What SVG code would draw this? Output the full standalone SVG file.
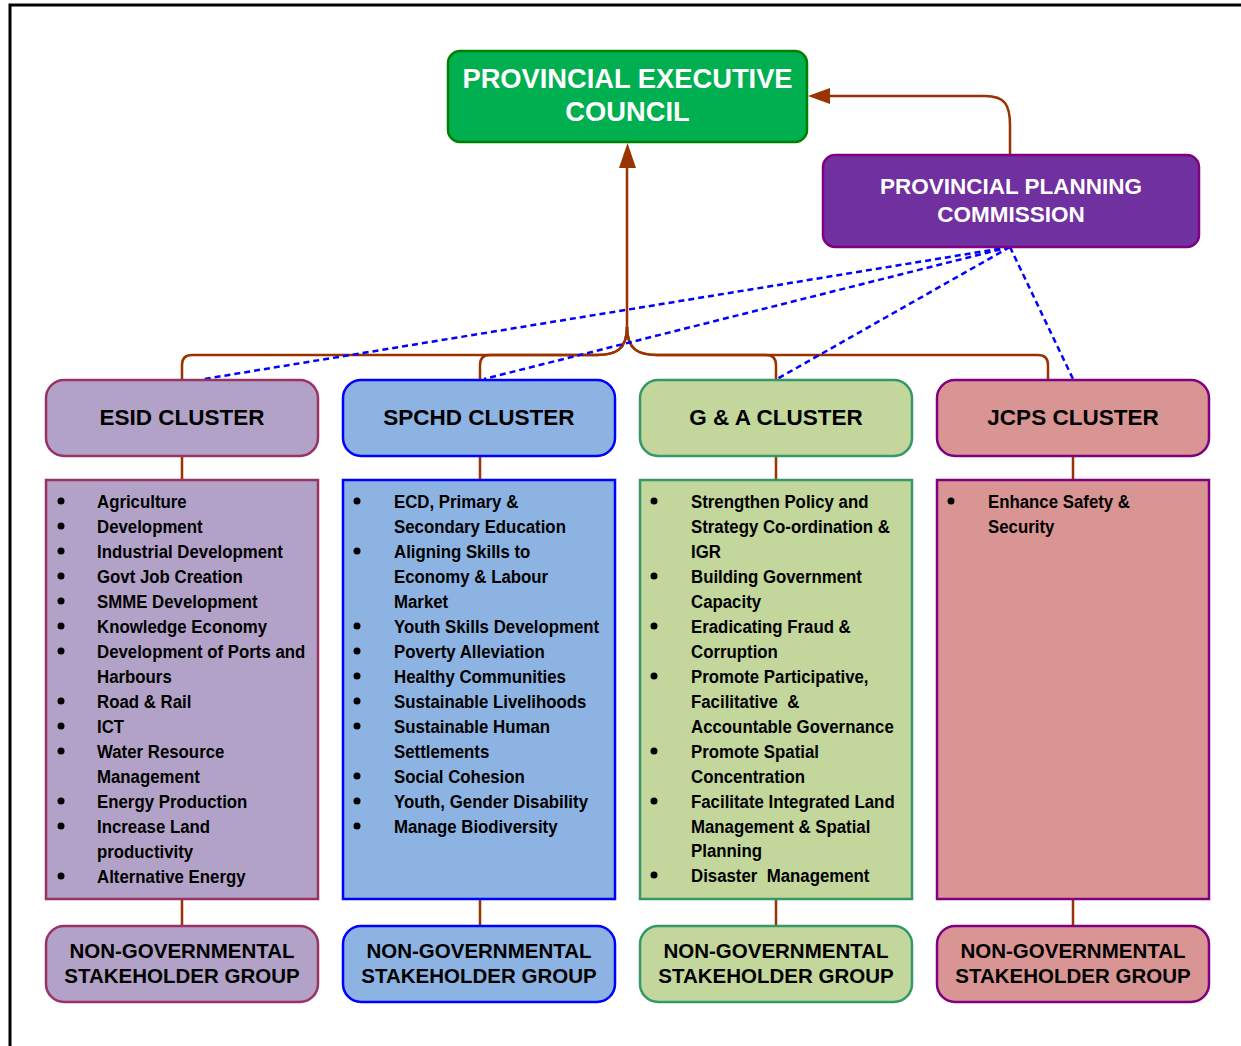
<svg xmlns="http://www.w3.org/2000/svg" width="1241" height="1046" viewBox="0 0 1241 1046">
<style>
text{font-family:"Liberation Sans",Arial,sans-serif;font-weight:bold}
.w{fill:#fff}
.t{fill:#000;font-size:22.5px}
.n{fill:#000;font-size:20.5px}
.li{fill:#000;font-size:19px;white-space:pre}
.bul{fill:#000}
.conn{fill:none;stroke:#993300;stroke-width:2.5}
.dot{fill:none;stroke:#0000FF;stroke-width:2.5;stroke-dasharray:6 4}
.b1{fill:#B3A2C7;stroke:#993366;stroke-width:2.5}
.b2{fill:#8DB3E2;stroke:#0000FF;stroke-width:2.5}
.b3{fill:#C3D69B;stroke:#339966;stroke-width:2.5}
.b4{fill:#D99594;stroke:#800080;stroke-width:2.5}
</style>
<path d="M10,1046 V5 H1241" fill="none" stroke="#000" stroke-width="3"/>

<g id="connectors">
<path class="conn" d="M627,168 V327 C627,350 615,355 597,355 H192 Q182,355 182,365 V380"/>
<path class="conn" d="M627,327 C627,350 615,355 597,355 H490 Q480,355 480,365 V380"/>
<path class="conn" d="M627,327 C627,350 639,355 657,355 H766 Q776,355 776,365 V380"/>
<path class="conn" d="M627,327 C627,350 639,355 657,355 H1038 Q1048,355 1048,365 V380"/>
<polygon points="627.5,143 619,168 636,168" fill="#993300"/>
<path class="conn" d="M1010,155 V125 C1010,105 1005,96 985,96 H828"/>
<polygon points="808,96 830,88 830,104" fill="#993300"/>
<path class="conn" d="M182,456 V480 M182,899 V926"/>
<path class="conn" d="M480,456 V480 M480,899 V926"/>
<path class="conn" d="M776,456 V480 M776,899 V926"/>
<path class="conn" d="M1073,456 V480 M1073,899 V926"/>
<path class="dot" d="M1010,247 L204,379"/>
<path class="dot" d="M1010,247 L484,379"/>
<path class="dot" d="M1010,247 L777,379"/>
<path class="dot" d="M1010,247 L1073,379"/>
</g>

<g id="pec">
<rect x="448" y="51" width="359" height="91" rx="12" fill="#00B050" stroke="#008000" stroke-width="2.5"/>
<text class="w" x="627.5" y="88" font-size="27.3" text-anchor="middle">PROVINCIAL EXECUTIVE</text>
<text class="w" x="627.5" y="121" font-size="27.3" text-anchor="middle">COUNCIL</text>
</g>

<g id="ppc">
<rect x="823" y="155" width="376" height="92" rx="12" fill="#7030A0" stroke="#800080" stroke-width="2.5"/>
<text class="w" x="1011" y="194" font-size="22.5" text-anchor="middle">PROVINCIAL PLANNING</text>
<text class="w" x="1011" y="222" font-size="22.5" text-anchor="middle">COMMISSION</text>
</g>

<g id="esid">
<rect class="b1" x="46" y="380" width="272" height="76" rx="18"/>
<text class="t" x="182" y="425" text-anchor="middle">ESID CLUSTER</text>
</g>
<g id="spchd">
<rect class="b2" x="343" y="380" width="272" height="76" rx="18"/>
<text class="t" x="479" y="425" text-anchor="middle">SPCHD CLUSTER</text>
</g>
<g id="ga">
<rect class="b3" x="640" y="380" width="272" height="76" rx="18"/>
<text class="t" x="776" y="425" text-anchor="middle">G &amp; A CLUSTER</text>
</g>
<g id="jcps">
<rect class="b4" x="937" y="380" width="272" height="76" rx="18"/>
<text class="t" x="1073" y="425" text-anchor="middle">JCPS CLUSTER</text>
</g>

<g id="esid-list">
<rect class="b1" x="46" y="480" width="272" height="419"/>
<g class="bul">
<circle cx="61" cy="501" r="3.5"/><circle cx="61" cy="526" r="3.5"/><circle cx="61" cy="551" r="3.5"/><circle cx="61" cy="576" r="3.5"/><circle cx="61" cy="601" r="3.5"/><circle cx="61" cy="626" r="3.5"/><circle cx="61" cy="651" r="3.5"/><circle cx="61" cy="701" r="3.5"/><circle cx="61" cy="726" r="3.5"/><circle cx="61" cy="751" r="3.5"/><circle cx="61" cy="801" r="3.5"/><circle cx="61" cy="826" r="3.5"/><circle cx="61" cy="876" r="3.5"/>
</g>
<g transform="matrix(0.885 0 0 1 97 0)">
<text class="li" x="0" y="508">Agriculture</text>
<text class="li" x="0" y="533">Development</text>
<text class="li" x="0" y="558">Industrial Development</text>
<text class="li" x="0" y="583">Govt Job Creation</text>
<text class="li" x="0" y="608">SMME Development</text>
<text class="li" x="0" y="633">Knowledge Economy</text>
<text class="li" x="0" y="658">Development of Ports and</text>
<text class="li" x="0" y="683">Harbours</text>
<text class="li" x="0" y="708">Road &amp; Rail</text>
<text class="li" x="0" y="733">ICT</text>
<text class="li" x="0" y="758">Water Resource</text>
<text class="li" x="0" y="783">Management</text>
<text class="li" x="0" y="808">Energy Production</text>
<text class="li" x="0" y="833">Increase Land</text>
<text class="li" x="0" y="858">productivity</text>
<text class="li" x="0" y="883">Alternative Energy</text>
</g>
</g>

<g id="spchd-list">
<rect class="b2" x="343" y="480" width="272" height="419"/>
<g class="bul">
<circle cx="357" cy="501" r="3.5"/><circle cx="357" cy="551" r="3.5"/><circle cx="357" cy="626" r="3.5"/><circle cx="357" cy="651" r="3.5"/><circle cx="357" cy="676" r="3.5"/><circle cx="357" cy="701" r="3.5"/><circle cx="357" cy="726" r="3.5"/><circle cx="357" cy="776" r="3.5"/><circle cx="357" cy="801" r="3.5"/><circle cx="357" cy="826" r="3.5"/>
</g>
<g transform="matrix(0.885 0 0 1 394 0)">
<text class="li" x="0" y="508">ECD, Primary &amp;</text>
<text class="li" x="0" y="533">Secondary Education</text>
<text class="li" x="0" y="558">Aligning Skills to</text>
<text class="li" x="0" y="583">Economy &amp; Labour</text>
<text class="li" x="0" y="608">Market</text>
<text class="li" x="0" y="633">Youth Skills Development</text>
<text class="li" x="0" y="658">Poverty Alleviation</text>
<text class="li" x="0" y="683">Healthy Communities</text>
<text class="li" x="0" y="708">Sustainable Livelihoods</text>
<text class="li" x="0" y="733">Sustainable Human</text>
<text class="li" x="0" y="758">Settlements</text>
<text class="li" x="0" y="783">Social Cohesion</text>
<text class="li" x="0" y="808">Youth, Gender Disability</text>
<text class="li" x="0" y="833">Manage Biodiversity</text>
</g>
</g>

<g id="ga-list">
<rect class="b3" x="640" y="480" width="272" height="419"/>
<g class="bul">
<circle cx="654" cy="501" r="3.5"/><circle cx="654" cy="576" r="3.5"/><circle cx="654" cy="626" r="3.5"/><circle cx="654" cy="676" r="3.5"/><circle cx="654" cy="751" r="3.5"/><circle cx="654" cy="801" r="3.5"/><circle cx="654" cy="875" r="3.5"/>
</g>
<g transform="matrix(0.885 0 0 1 691 0)">
<text class="li" x="0" y="508">Strengthen Policy and</text>
<text class="li" x="0" y="533">Strategy Co-ordination &amp;</text>
<text class="li" x="0" y="558">IGR</text>
<text class="li" x="0" y="583">Building Government</text>
<text class="li" x="0" y="608">Capacity</text>
<text class="li" x="0" y="633">Eradicating Fraud &amp;</text>
<text class="li" x="0" y="658">Corruption</text>
<text class="li" x="0" y="683">Promote Participative,</text>
<text class="li" x="0" y="708">Facilitative  &amp;</text>
<text class="li" x="0" y="733">Accountable Governance</text>
<text class="li" x="0" y="758">Promote Spatial</text>
<text class="li" x="0" y="783">Concentration</text>
<text class="li" x="0" y="808">Facilitate Integrated Land</text>
<text class="li" x="0" y="833">Management &amp; Spatial</text>
<text class="li" x="0" y="857">Planning</text>
<text class="li" x="0" y="882">Disaster  Management</text>
</g>
</g>

<g id="jcps-list">
<rect class="b4" x="937" y="480" width="272" height="419"/>
<circle class="bul" cx="951" cy="501" r="3.5"/>
<g transform="matrix(0.885 0 0 1 988 0)">
<text class="li" x="0" y="508">Enhance Safety &amp;</text>
<text class="li" x="0" y="533">Security</text>
</g>
</g>

<g id="ngo-esid">
<rect class="b1" x="46" y="926" width="272" height="76" rx="18"/>
<text class="n" x="182" y="958" text-anchor="middle">NON-GOVERNMENTAL</text>
<text class="n" x="182" y="983" text-anchor="middle">STAKEHOLDER GROUP</text>
</g>
<g id="ngo-spchd">
<rect class="b2" x="343" y="926" width="272" height="76" rx="18"/>
<text class="n" x="479" y="958" text-anchor="middle">NON-GOVERNMENTAL</text>
<text class="n" x="479" y="983" text-anchor="middle">STAKEHOLDER GROUP</text>
</g>
<g id="ngo-ga">
<rect class="b3" x="640" y="926" width="272" height="76" rx="18"/>
<text class="n" x="776" y="958" text-anchor="middle">NON-GOVERNMENTAL</text>
<text class="n" x="776" y="983" text-anchor="middle">STAKEHOLDER GROUP</text>
</g>
<g id="ngo-jcps">
<rect class="b4" x="937" y="926" width="272" height="76" rx="18"/>
<text class="n" x="1073" y="958" text-anchor="middle">NON-GOVERNMENTAL</text>
<text class="n" x="1073" y="983" text-anchor="middle">STAKEHOLDER GROUP</text>
</g>
</svg>
